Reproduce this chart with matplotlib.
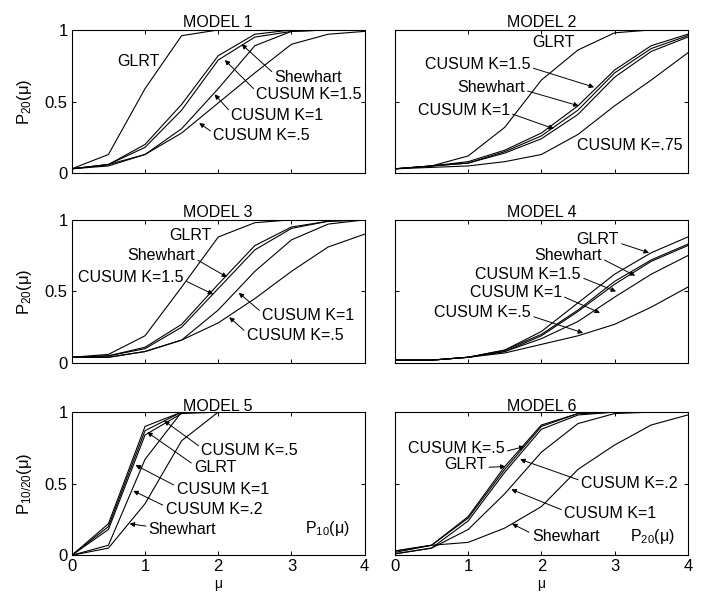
import matplotlib.pyplot as plt

plt.rcParams['font.family'] = ['Liberation Sans', 'DejaVu Sans']
plt.rcParams['mathtext.fontset'] = 'custom'
plt.rcParams['mathtext.rm'] = 'Liberation Sans'
plt.rcParams['mathtext.default'] = 'regular'

mu = [0, 0.5, 1, 1.5, 2, 2.5, 3, 3.5, 4]

# model 1
m1_glrt = [0.03, 0.13, 0.59, 0.96, 1.0, 1.0, 1.0, 1.0, 1.0]
m1_shew = [0.03, 0.06, 0.20, 0.48, 0.82, 0.97, 1.0, 1.0, 1.0]
m1_k15 = [0.03, 0.06, 0.18, 0.44, 0.79, 0.95, 0.99, 1.0, 1.0]
m1_k1 = [0.03, 0.06, 0.13, 0.31, 0.59, 0.89, 0.99, 1.0, 1.0]
m1_k05 = [0.03, 0.05, 0.13, 0.28, 0.49, 0.70, 0.90, 0.97, 0.99]

# model 2
m2_glrt = [0.03, 0.05, 0.12, 0.32, 0.65, 0.86, 0.98, 1.0, 1.0]
m2_k15 = [0.03, 0.05, 0.08, 0.16, 0.28, 0.47, 0.72, 0.89, 0.97]
m2_shew = [0.03, 0.05, 0.07, 0.15, 0.26, 0.44, 0.70, 0.87, 0.96]
m2_k1 = [0.03, 0.05, 0.07, 0.14, 0.24, 0.41, 0.67, 0.85, 0.95]
m2_k075 = [0.03, 0.04, 0.05, 0.08, 0.13, 0.27, 0.47, 0.65, 0.84]

# model 3
m3_glrt = [0.04, 0.06, 0.19, 0.53, 0.88, 0.98, 1.0, 1.0, 1.0]
m3_shew = [0.04, 0.05, 0.11, 0.27, 0.55, 0.82, 0.95, 0.99, 1.0]
m3_k15 = [0.04, 0.05, 0.10, 0.25, 0.52, 0.79, 0.94, 0.99, 1.0]
m3_k1 = [0.04, 0.04, 0.08, 0.16, 0.37, 0.64, 0.86, 0.97, 1.0]
m3_k05 = [0.04, 0.04, 0.08, 0.16, 0.28, 0.45, 0.64, 0.81, 0.90]

# model 4
m4_glrt = [0.02, 0.02, 0.04, 0.09, 0.22, 0.42, 0.62, 0.77, 0.88]
m4_shew = [0.02, 0.02, 0.04, 0.09, 0.20, 0.37, 0.57, 0.72, 0.83]
m4_k15 = [0.02, 0.02, 0.04, 0.08, 0.19, 0.36, 0.55, 0.71, 0.82]
m4_k1 = [0.02, 0.02, 0.04, 0.08, 0.17, 0.29, 0.46, 0.62, 0.75]
m4_k05 = [0.02, 0.02, 0.04, 0.07, 0.13, 0.19, 0.27, 0.39, 0.53]

# model 5
m5_k05 = [0.0, 0.22, 0.90, 1.0, 1.0, 1.0, 1.0, 1.0, 1.0]
m5_glrt = [0.0, 0.20, 0.87, 1.0, 1.0, 1.0, 1.0, 1.0, 1.0]
m5_k1 = [0.0, 0.18, 0.84, 0.99, 1.0, 1.0, 1.0, 1.0, 1.0]
m5_k02 = [0.0, 0.07, 0.67, 1.0, 1.0, 1.0, 1.0, 1.0, 1.0]
m5_shew = [0.0, 0.05, 0.36, 0.80, 1.0, 1.0, 1.0, 1.0, 1.0]

# model 6
m6_k05 = [0.03, 0.07, 0.27, 0.62, 0.91, 0.99, 1.0, 1.0, 1.0]
m6_glrt = [0.02, 0.07, 0.26, 0.60, 0.90, 0.99, 1.0, 1.0, 1.0]
m6_k02 = [0.01, 0.05, 0.24, 0.58, 0.88, 0.98, 1.0, 1.0, 1.0]
m6_k1 = [0.01, 0.05, 0.18, 0.43, 0.72, 0.92, 0.99, 1.0, 1.0]
m6_shew = [0.03, 0.07, 0.09, 0.19, 0.34, 0.60, 0.77, 0.91, 0.98]

panels = [
    ("MODEL 1", [m1_glrt, m1_shew, m1_k15, m1_k1, m1_k05]),
    ("MODEL 2", [m2_glrt, m2_k15, m2_shew, m2_k1, m2_k075]),
    ("MODEL 3", [m3_glrt, m3_shew, m3_k15, m3_k1, m3_k05]),
    ("MODEL 4", [m4_glrt, m4_shew, m4_k15, m4_k1, m4_k05]),
    ("MODEL 5", [m5_k05, m5_glrt, m5_k1, m5_k02, m5_shew]),
    ("MODEL 6", [m6_k05, m6_glrt, m6_k02, m6_k1, m6_shew]),
]

# labels: (text, text x, text y, arrow start rel pos, arrow target) ; target None -> no arrow
labels = [
    [("GLRT", 0.62, 0.78, None, None),
     ("Shewhart", 2.77, 0.67, (0, 0.7), (2.32, 0.90)),
     ("CUSUM K=1.5", 2.52, 0.55, (0, 0.7), (2.09, 0.79)),
     ("CUSUM K=1", 2.18, 0.40, (0, 0.7), (1.95, 0.55)),
     ("CUSUM K=.5", 1.93, 0.26, (0, 0.7), (1.74, 0.35))],
    [("GLRT", 1.87, 0.91, None, None),
     ("CUSUM K=1.5", 0.41, 0.76, (1, 0.3), (2.72, 0.60)),
     ("Shewhart", 0.85, 0.60, (1, 0.3), (2.51, 0.47)),
     ("CUSUM K=1", 0.31, 0.44, (1, 0.3), (2.17, 0.31)),
     ("CUSUM K=.75", 2.49, 0.19, None, None)],
    [("GLRT", 1.33, 0.89, None, None),
     ("Shewhart", 0.76, 0.75, (1, 0.3), (2.12, 0.60)),
     ("CUSUM K=1.5", 0.09, 0.60, (1, 0.3), (1.93, 0.48)),
     ("CUSUM K=1", 2.60, 0.33, (0, 0.7), (2.28, 0.49)),
     ("CUSUM K=.5", 2.39, 0.19, (0, 0.7), (2.15, 0.32))],
    [("GLRT", 2.48, 0.86, (1, 0.3), (3.47, 0.77)),
     ("Shewhart", 1.90, 0.75, (1, 0.3), (3.28, 0.61)),
     ("CUSUM K=1.5", 1.10, 0.62, (1, 0.3), (3.02, 0.50)),
     ("CUSUM K=1", 1.02, 0.49, (1, 0.3), (2.80, 0.35)),
     ("CUSUM K=.5", 0.54, 0.35, (1, 0.3), (2.57, 0.21))],
    [("CUSUM K=.5", 1.77, 0.73, (0, 0.7), (1.26, 0.94)),
     ("GLRT", 1.67, 0.61, (0, 0.7), (1.03, 0.86)),
     ("CUSUM K=1", 1.43, 0.46, (0, 0.7), (0.87, 0.63)),
     ("CUSUM K=.2", 1.28, 0.32, (0, 0.7), (0.84, 0.45)),
     ("Shewhart", 1.05, 0.18, (0, 0.7), (0.79, 0.22)),
     ("P$_{10}$(μ)", 3.19, 0.19, None, None)],
    [("CUSUM K=.5", 0.18, 0.745, (1, 0.3), (1.77, 0.76)),
     ("GLRT", 0.67, 0.635, (1, 0.3), (1.51, 0.62)),
     ("CUSUM K=.2", 2.54, 0.50, (0, 0.7), (1.71, 0.67)),
     ("CUSUM K=1", 2.31, 0.29, (0, 0.7), (1.59, 0.46)),
     ("Shewhart", 1.87, 0.13, (0, 0.7), (1.60, 0.22)),
     ("P$_{20}$(μ)", 3.21, 0.13, None, None)],
]

ylabels = ["P$_{20}$(μ)", "", "P$_{20}$(μ)", "", "P$_{10/20}$(μ)", ""]

fig = plt.figure(figsize=(7.04, 5.99), dpi=100)
lefts = [0.102, 0.561]
width = 0.416
bottoms = [0.711, 0.394, 0.073]
height = 0.239

for i, (title, curves) in enumerate(panels):
    r, c = divmod(i, 2)
    ax = fig.add_axes([lefts[c], bottoms[r], width, height])
    for y in curves:
        ax.plot(mu, y, color='black', lw=0.8)
    ax.set_xlim(0, 4)
    ax.set_ylim(0, 1)
    ax.set_xticks([0, 1, 2, 3, 4])
    ax.set_yticks([0, 0.5, 1])
    ax.tick_params(direction='in', top=True, right=True, length=3, labelsize=12,
                   width=0.7, pad=3)
    if r == 2:
        ax.set_xticklabels(['0', '1', '2', '3', '4'])
        ax.set_xlabel('μ', fontsize=10, labelpad=2)
    else:
        ax.set_xticklabels([])
    if c == 0:
        ax.set_yticklabels(['0', '0.5', '1'])
        ax.set_ylabel(ylabels[i], fontsize=12, labelpad=8)
    else:
        ax.set_yticklabels([])
    for s in ax.spines.values():
        s.set_linewidth(0.8)
    ax.set_title(title, fontsize=11.5, pad=1)
    for txt, tx, ty, rel, tgt in labels[i]:
        if tgt is None:
            ax.text(tx, ty, txt, fontsize=11.5, ha='left', va='center')
        else:
            ax.annotate(txt, xy=tgt, xytext=(tx, ty), fontsize=11.5, ha='left', va='center',
                        arrowprops=dict(arrowstyle='-|>', color='black', lw=0.7,
                                        mutation_scale=7, relpos=rel,
                                        shrinkA=0, shrinkB=0))

fig.savefig('out.png', dpi=100)
